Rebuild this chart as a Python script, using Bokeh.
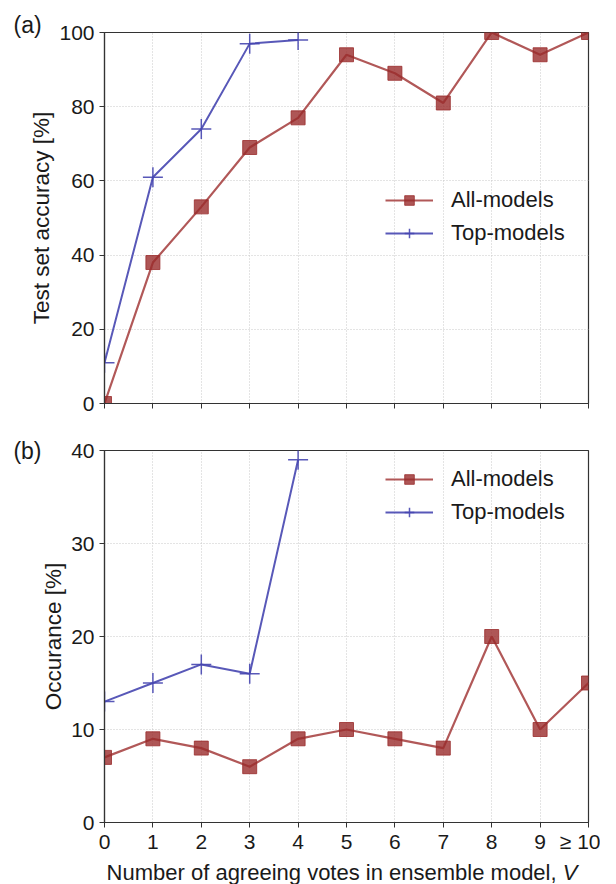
from bokeh.plotting import figure
from bokeh.layouts import column
from bokeh.models import (FixedTicker, Legend, LinearAxis, Div,
                          CustomLabelingPolicy)
from bokeh.embed import file_html
from bokeh.resources import INLINE

# ---- data ----
votes = list(range(11))
votes_top = list(range(5))
xtick_labels = ["0", "1", "2", "3", "4", "5", "6", "7", "8", "9", "\u2265 10"]
acc_all = [0, 38, 53, 69, 77, 94, 89, 81, 100, 94, 100]
acc_top = [11, 61, 74, 97, 98]
occ_all = [7, 9, 8, 6, 9, 10, 9, 8, 20, 10, 15]
occ_top = [13, 15, 17, 16, 39]
acc_ticks = [0, 20, 40, 60, 80, 100]
occ_ticks = [0, 10, 20, 30, 40]

FONT = "Liberation Sans"
RED_LINE = "#a84646"
RED_FILL = "#9a2c2c"
BLUE = "#4646b0"
TXT = "#1a1a1a"


def style(p, yticks, show_xlabels):
    p.outline_line_color = "#333333"
    p.outline_line_width = 1.2
    p.xaxis.ticker = FixedTicker(ticks=votes)
    p.yaxis.ticker = FixedTicker(ticks=yticks)
    p.xaxis.major_label_overrides = {i: t for i, t in zip(votes, xtick_labels)}
    for ax in (p.xaxis[0], p.yaxis[0]):
        ax.axis_line_color = "#333333"
        ax.axis_line_width = 1.2
        ax.major_tick_line_color = "#333333"
        ax.major_tick_out = 5
        ax.major_tick_in = 0
        ax.minor_tick_line_color = None
        ax.major_label_text_font = FONT
        ax.major_label_text_font_size = "21px"
        ax.major_label_text_color = TXT
        ax.major_label_standoff = 5
        ax.axis_label_text_font = FONT
        ax.axis_label_text_font_size = "22.5px"
        ax.axis_label_text_font_style = "normal"
        ax.axis_label_text_color = TXT
        ax.axis_label_standoff = 2
    p.xaxis.major_label_standoff = 2
    if not show_xlabels:
        p.xaxis.major_label_text_font_size = "10px"
        p.xaxis.major_label_policy = CustomLabelingPolicy(
            code="for (const i of Array.from(indices)) indices.unset(i); return indices")
    p.grid.grid_line_color = "#c8c8c8"
    p.grid.grid_line_dash = "1 2"
    p.grid.grid_line_width = 1


def series(p, xs, ys_all, ys_top, loc):
    r1 = p.line(xs, ys_all, line_color=RED_LINE, line_width=2.2, line_alpha=0.9)
    r2 = p.scatter(xs, ys_all, marker="square", size=14, fill_color=RED_FILL,
                   fill_alpha=0.8, line_color=RED_FILL, line_alpha=0.8)
    r3 = p.line(votes_top, ys_top, line_color=BLUE, line_width=2.0, line_alpha=0.9)
    r4 = p.scatter(votes_top, ys_top, marker="cross", size=20, line_color=BLUE,
                   line_width=1.5, line_alpha=0.9)
    leg = Legend(items=[("All-models", [r1, r2]), ("Top-models", [r3, r4])],
                 location=loc, border_line_color=None, background_fill_alpha=0,
                 padding=0, margin=0, spacing=7, glyph_width=48, glyph_height=24,
                 label_height=24, label_standoff=18,
                 label_text_font=FONT, label_text_font_size="22px",
                 label_text_color=TXT)
    p.add_layout(leg)


p1 = figure(width=600, height=428, x_range=(0, 10), y_range=(0, 100),
            output_backend="svg", toolbar_location=None,
            min_border_left=104, min_border_right=12, min_border_top=32,
            min_border_bottom=25)
style(p1, acc_ticks, False)
p1.yaxis.axis_label = "Test set accuracy [%]"
series(p1, votes, acc_all, acc_top, (281, 157))
p1.title.text = "(a)"
p1.title.align = "left"
p1.title.offset = -91
p1.title.standoff = -11
p1.title.text_font = FONT
p1.title.text_font_size = "23px"
p1.title.text_font_style = "normal"
p1.title.text_color = TXT

p2 = figure(width=600, height=434, x_range=(0, 10), y_range=(0, 40),
            output_backend="svg", toolbar_location=None,
            min_border_left=104, min_border_right=12, min_border_top=22,
            min_border_bottom=40)
style(p2, occ_ticks, True)
p2.yaxis.axis_label = "Occurance [%]"
series(p2, votes, occ_all, occ_top, (281, 297))
# panel label "(b)" as an extra, line-less left axis with a single tick
lab_axis = LinearAxis(ticker=FixedTicker(ticks=[40]),
                      major_label_overrides={40: "(b)"},
                      axis_line_color=None, major_tick_line_color=None,
                      minor_tick_line_color=None, major_label_standoff=-9,
                      major_label_text_font=FONT, major_label_text_font_size="23px",
                      major_label_text_color=TXT)
p2.add_layout(lab_axis, "left")

xlabel = Div(text='Number of agreeing votes in ensemble model, <i>V</i>',
             width=476, height=22, margin=(0, 0, 0, 104),
             styles={"font-family": FONT, "font-size": "22px", "color": TXT,
                     "text-align": "center", "width": "476px",
                     "line-height": "22px", "white-space": "nowrap"})

layout = column(p1, p2, xlabel, spacing=0)
open("out.html", "w").write(file_html(layout, INLINE))
